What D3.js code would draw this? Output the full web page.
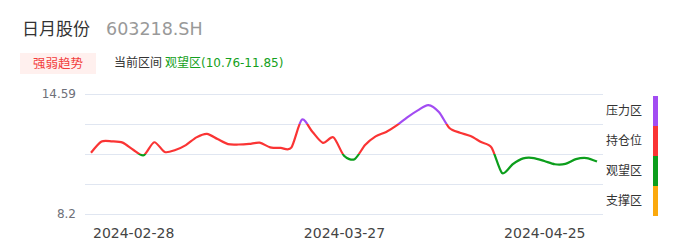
<!DOCTYPE html>
<html><head><meta charset="utf-8">
<script src="https://cdn.jsdelivr.net/npm/d3@7/dist/d3.min.js"></script>
<style>
html,body{margin:0;padding:0;background:#fff;}
svg text{font-family:"DejaVu Sans","Noto Sans CJK SC",sans-serif;}
</style></head>
<body><svg id="c" width="686" height="247"></svg>
<script>
const dates = ["2024-02-22","2024-02-23","2024-02-26","2024-02-27","2024-02-28","2024-02-29","2024-03-01",
"2024-03-04","2024-03-05","2024-03-06","2024-03-07","2024-03-08","2024-03-11","2024-03-12","2024-03-13",
"2024-03-14","2024-03-15","2024-03-18","2024-03-19","2024-03-20","2024-03-21","2024-03-22","2024-03-25",
"2024-03-26","2024-03-27","2024-03-28","2024-03-29","2024-04-01","2024-04-02","2024-04-03","2024-04-08",
"2024-04-09","2024-04-10","2024-04-11","2024-04-12","2024-04-15","2024-04-16","2024-04-17","2024-04-18",
"2024-04-19","2024-04-22","2024-04-23","2024-04-24","2024-04-25","2024-04-26","2024-04-29","2024-04-30",
"2024-05-06","2024-05-07"];
const prices = [11.46,12.06,12.07,12.00,11.62,11.33,12.02,11.50,11.61,11.87,12.28,12.47,12.19,11.92,11.90,
11.93,12.00,11.75,11.72,11.73,13.22,12.58,11.99,12.28,11.30,11.12,11.87,12.33,12.57,12.92,13.35,13.72,14.00,
13.63,12.78,12.53,12.35,12.03,11.74,10.38,10.85,11.16,11.18,11.02,10.85,10.87,11.12,11.18,10.99];
const xTickLabels = ["2024-02-28","2024-03-27","2024-04-25"];
const yMin = 8.2, yMax = 14.59;
const yTickLabels = ["8.2","14.59"];
const zoneNames = ["压力区","持仓位","观望区","支撑区"];
const zoneColors = ["#a24cf2","#fa3434","#0c9e1c","#fba90d"];
const stockName = "日月股份", stockCode = "603218.SH";
const badgeText = "强弱趋势", curLabel = "当前区间", curZone = "观望区(10.76-11.85)";

(function () {
const svg = d3.select("#c");
const W = 686, H = 247;
const pL = 85, pR = 603, pT = 94, pB = 214;

const x = d3.scalePoint().domain(dates).range([91, 597]);
const y = d3.scaleLinear().domain([yMin, yMax]).range([pB, pT]);
const yTicks = d3.range(5).map(i => yMin + i * (yMax - yMin) / 4);

// title
svg.append("text").attr("x", 22).attr("y", 35).attr("font-size", 17).attr("fill", "#333").text(stockName);
svg.append("text").attr("x", 106).attr("y", 35).attr("font-size", 17.5).attr("fill", "#999").text(stockCode);

// badge
svg.append("rect").attr("x", 20).attr("y", 53).attr("width", 76).attr("height", 21).attr("fill", "#fff0ee");
svg.append("text").attr("x", 58).attr("y", 67.5).attr("text-anchor", "middle").attr("font-size", 12.5)
  .attr("fill", "#f23c3c").text(badgeText);
svg.append("text").attr("x", 114).attr("y", 67).attr("font-size", 12).attr("fill", "#333").text(curLabel);
svg.append("text").attr("x", 165).attr("y", 67).attr("font-size", 12).attr("fill", "#14a020").text(curZone);

// y axis + grid
const yAxis = d3.axisLeft(y).tickValues(yTicks).tickSize(-(pR - pL)).tickPadding(9)
  .tickFormat((d, i) => i === 0 ? yTickLabels[0] : (i === yTicks.length - 1 ? yTickLabels[1] : ""));
const gy = svg.append("g").attr("transform", `translate(${pL},0)`).call(yAxis);
gy.select(".domain").remove();
gy.selectAll("line").attr("stroke", "#e0e6f1");
gy.selectAll("text").attr("fill", "#6e7079").attr("font-size", 12);

// x axis
const xAxis = d3.axisBottom(x).tickValues(xTickLabels).tickSize(0).tickPadding(14);
const gx = svg.append("g").attr("transform", `translate(0,${pB})`).call(xAxis);
gx.select(".domain").remove();
gx.selectAll("text").attr("fill", "#444").attr("font-size", 14);

// gradient for piecewise coloring
const thresholds = [yTicks[3], yTicks[2], yTicks[1]];
const defs = svg.append("defs");
const grad = defs.append("linearGradient").attr("id", "zg").attr("gradientUnits", "userSpaceOnUse")
  .attr("x1", 0).attr("x2", 0).attr("y1", 0).attr("y2", H);
const cuts = thresholds.map(t => y(t) / H);
const stops = [[0, 0], [cuts[0], 0], [cuts[0], 1], [cuts[1], 1], [cuts[1], 2], [cuts[2], 2], [cuts[2], 3], [1, 3]];
stops.forEach(([o, c]) => grad.append("stop").attr("offset", o).attr("stop-color", zoneColors[c]));

const line = d3.line().x((d, i) => x(dates[i])).y(d => y(d)).curve(d3.curveCardinal.tension(0.2));
svg.append("path").datum(prices).attr("d", line).attr("fill", "none")
  .attr("stroke", "url(#zg)").attr("stroke-width", 2.2).attr("stroke-linejoin", "round");

// legend
const band = d3.scaleBand().domain(zoneNames).range([96, 216]);
const lg = svg.append("g");
lg.selectAll("rect.z").data(zoneNames).join("rect").attr("class", "z")
  .attr("x", 653).attr("y", d => band(d)).attr("width", 5).attr("height", band.bandwidth())
  .attr("fill", (d, i) => zoneColors[i]);
lg.selectAll("text").data(zoneNames).join("text")
  .attr("x", 642).attr("y", d => band(d) + band.bandwidth() / 2).attr("dy", "0.35em")
  .attr("text-anchor", "end").attr("font-size", 12).attr("fill", "#333").text(d => d);
})();
</script></body></html>
